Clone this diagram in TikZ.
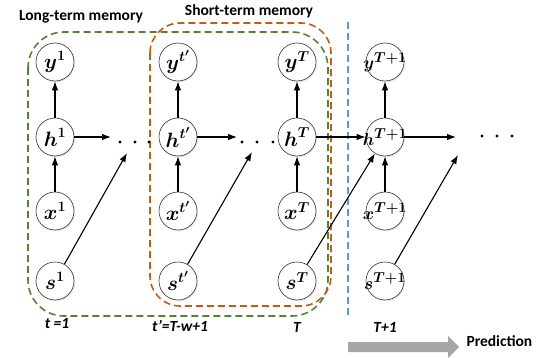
\documentclass[tikz,border=0pt]{standalone}
\usepackage{amsmath,amsbsy}
\usepackage{fontspec}
\setmainfont{Carlito}
\usetikzlibrary{arrows.meta,shadows}

\definecolor{longgreen}{HTML}{548235}
\definecolor{shortorange}{HTML}{C55A11}
\definecolor{splitblue}{HTML}{5B9BD5}
\definecolor{predgray}{HTML}{A6A6A6}

% variable with a superscript, set at zero width so every circle keeps its size
\newcommand{\bv}[2]{\makebox[0pt]{$\boldsymbol{#1}^{\boldsymbol{#2}}$}}

\begin{document}
\begin{tikzpicture}[x=1pt,y=-1pt,
  unit/.style={circle,draw=black!80,line width=0.6pt,fill=white,minimum size=38pt,inner sep=0pt,
    font=\fontsize{#1}{#1}\selectfont,
    drop shadow={opacity=0.18,shadow xshift=1.2pt,shadow yshift=-1.2pt}},
  unit/.default=21,
  arr/.style={-{Latex[length=9pt,width=6.5pt]},line width=1.1pt},
  memline/.style={line width=1.6pt,dash pattern=on 7pt off 4pt},
  dotmark/.style={circle,fill=black,inner sep=0pt,minimum size=3.4pt},
  title/.style={font=\fontsize{15.5}{16}\selectfont\bfseries},
  steplabel/.style={font=\fontsize{15.5}{16}\selectfont\bfseries\itshape}
]
\useasboundingbox (0,0) rectangle (548,358);

% memory windows
\draw[memline,longgreen,rounded corners=36pt] (28,32) rectangle (328,316);
\draw[memline,shortorange,rounded corners=30pt] (150,23) rectangle (331,306);
\draw[memline,splitblue,line width=1.3pt] (348,22) -- (348,316);

% recurrent units
\foreach \c/\x/\s/\f in {1/55/1/21, p/178/t'/21, T/297/T/21, N/385/T+1/19}{
  \node[unit=\f] (y\c) at (\x,62)  {\bv{y}{\s}};
  \node[unit=\f] (h\c) at (\x,137) {\bv{h}{\s}};
  \node[unit=\f] (x\c) at (\x,211) {\bv{x}{\s}};
  \node[unit=\f] (s\c) at (\x,281) {\bv{s}{\s}};
  \draw[arr] (x\c) -- (h\c);
  \draw[arr] (h\c) -- (y\c);
}

% free ends of the open connectors
\coordinate (e1) at (111,137);
\coordinate (ep) at (237,137);
\coordinate (eN) at (456,137);
\coordinate (d1) at (127,153);
\coordinate (dp) at (252,152);
\coordinate (dN) at (458,155);

\draw[arr] (h1) -- (e1);
\draw[arr] (hp) -- (ep);
\draw[arr] (hT) -- (hN);
\draw[arr] (hN) -- (eN);
\draw[arr] (s1) -- (d1);
\draw[arr] (sp) -- (dp);
\draw[arr] (sT) -- (hN);
\draw[arr] (sN) -- (dN);

% ellipses
\foreach \x in {120,135,149} \node[dotmark] (a\x) at (\x,142) {};
\foreach \x in {242,257,273} \node[dotmark] (b\x) at (\x,142) {};
\foreach \x in {482,497,512} \node[dotmark] (c\x) at (\x,136) {};

% titles
\node[title] (lt) at (81,17) {Long-term memory};
\node[title] (st) at (249,11) {Short-term memory};

% time-step labels
\node[steplabel] (l1) at (57,324) {t =1};
\node[steplabel] (lp) at (180,326) {t'=T-w+1};
\node[steplabel] (lT) at (297,327) {T};
\node[steplabel] (lN) at (385,327) {T+1};

% prediction arrow
\fill[predgray] (348,342) -- (448,342) -- (448,336) -- (459,347) -- (448,358)
  -- (448,352) -- (348,352) -- cycle;
\node[title,anchor=west] (pl) at (463,341) {Prediction};
\end{tikzpicture}
\end{document}
